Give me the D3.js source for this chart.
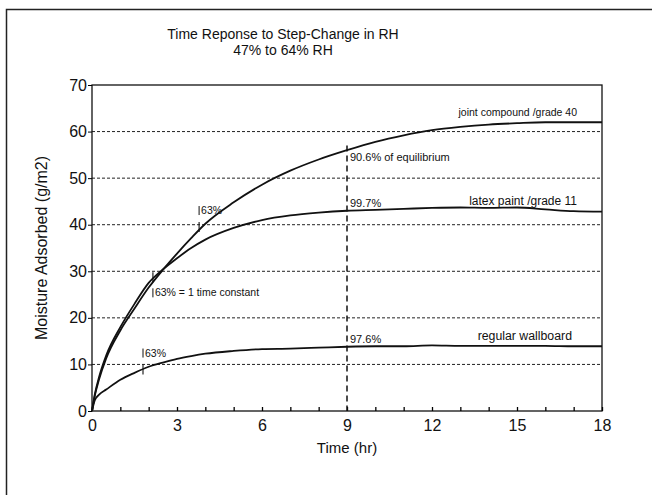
<!DOCTYPE html>
<html>
<head>
<meta charset="utf-8">
<script src="https://cdn.jsdelivr.net/npm/d3@7"></script>
<style>
  body { margin: 0; background: #fff; }
  svg text { font-family: "Liberation Sans", Arial, sans-serif; fill: #111; }
</style>
</head>
<body>
<svg id="chart"></svg>
<script>
// time axis (hr)
const hours = [0, 0.1, 0.25, 0.5, 1, 1.5, 2, 2.5, 3, 3.5, 4, 5, 6, 7, 8, 9, 10, 11, 12, 13, 14, 15, 16, 17, 18];
// moisture adsorbed (g/m2)
const jointCompound = [0, 3.3, 6.8, 11.3, 17.3, 22, 26.5, 30.3, 33.8, 37.1, 40.2, 44.8, 48.6, 51.6, 54, 56, 57.8, 59.2, 60.3, 61, 61.5, 61.8, 62, 62, 62];
const latexPaint = [0, 3.6, 7.3, 11.9, 18, 23, 27.5, 30.4, 32.8, 35, 36.8, 39.3, 41, 42, 42.6, 43, 43.2, 43.4, 43.6, 43.7, 43.6, 43.7, 43.3, 42.9, 42.8];
const wallboard = [0, 2.3, 3.5, 4.6, 6.7, 8.2, 9.5, 10.4, 11.2, 11.8, 12.3, 12.9, 13.3, 13.4, 13.6, 13.8, 13.9, 13.9, 14.1, 14, 14, 14, 14, 13.9, 13.9];

const xTicks = [0, 3, 6, 9, 12, 15, 18];
const yTicks = [0, 10, 20, 30, 40, 50, 60, 70];
const gridValues = [10, 20, 30, 40, 50, 60];

// 63% markers
const marks = [
  {t: 3.78, v: 39.5, label: "63%"},
  {t: 2.15, v: 28.7, label: "63% = 1 time constant"},
  {t: 1.8, v: 8.9, label: "63%"}
];
const equilibriumTime = 9;
const equilibriumLabels = [
  {v: 56, label: "90.6% of equilibrium"},
  {v: 43, label: "99.7%"},
  {v: 13.8, label: "97.6%"}
];
const seriesLabels = [
  {v: 62, label: "joint compound /grade 40"},
  {v: 43, label: "latex paint /grade 11"},
  {v: 13.9, label: "regular wallboard"}
];

const width = 652, height = 495;
const margin = {top: 85, right: 50, bottom: 84, left: 92};

const svg = d3.select("#chart").attr("width", width).attr("height", height);

// outer frame (left + top edge)
svg.append("path")
  .attr("d", "M6.5,495 V9.5 H652")
  .attr("fill", "none").attr("stroke", "#222").attr("stroke-width", 1.5);

const x = d3.scaleLinear().domain([0, 18]).range([margin.left, width - margin.right]);
const y = d3.scaleLinear().domain([0, 70]).range([height - margin.bottom, margin.top]);

// title
svg.append("text").attr("x", 283).attr("y", 38.5).attr("text-anchor", "middle")
  .style("font-size", "14px").text("Time Reponse to Step-Change in RH");
svg.append("text").attr("x", 283).attr("y", 55).attr("text-anchor", "middle")
  .style("font-size", "14px").text("47% to 64% RH");

// grid
svg.append("g").selectAll("line").data(gridValues).join("line")
  .attr("x1", x(0)).attr("x2", x(18))
  .attr("y1", d => y(d)).attr("y2", d => y(d))
  .attr("stroke", "#222").attr("stroke-width", 1)
  .attr("stroke-dasharray", "3,2");

// plot box
svg.append("rect")
  .attr("x", x(0)).attr("y", y(70))
  .attr("width", x(18) - x(0)).attr("height", y(0) - y(70))
  .attr("fill", "none").attr("stroke", "#111").attr("stroke-width", 1.3);

// y axis
const yAxis = svg.append("g").attr("transform", `translate(${x(0)},0)`)
  .call(d3.axisLeft(y).tickValues(yTicks).tickSize(4).tickPadding(1));
yAxis.select(".domain").remove();
yAxis.selectAll("text").style("font-size", "16px");

// x axis, ticks inward
const xAxis = svg.append("g").attr("transform", `translate(0,${y(0)})`)
  .call(d3.axisBottom(x).ticks(18).tickSize(-4).tickPadding(9)
    .tickFormat(d => xTicks.includes(d) ? d : ""));
xAxis.select(".domain").remove();
xAxis.selectAll("text").style("font-size", "16px");
xAxis.selectAll("line").attr("stroke-width", 1.3);

// axis titles
svg.append("text").attr("x", x(9)).attr("y", 453).attr("text-anchor", "middle")
  .style("font-size", "15px").text("Time (hr)");
svg.append("text").attr("transform", `translate(47,${(y(0) + y(70)) / 2}) rotate(-90)`)
  .attr("text-anchor", "middle").style("font-size", "16px").text("Moisture Adsorbed (g/m2)");

// vertical line at 9 hr
svg.append("line")
  .attr("x1", x(equilibriumTime)).attr("x2", x(equilibriumTime))
  .attr("y1", y(57)).attr("y2", y(0))
  .attr("stroke", "#111").attr("stroke-width", 1.5)
  .attr("stroke-dasharray", "6,4");

// curves
const line = d3.line().x((d, i) => x(hours[i])).y(d => y(d)).curve(d3.curveMonotoneX);
[jointCompound, latexPaint, wallboard].forEach(s => {
  svg.append("path").datum(s).attr("d", line)
    .attr("fill", "none").attr("stroke", "#111").attr("stroke-width", 1.8);
});

// 63% markers
const mk = svg.append("g");
mk.selectAll("line.cross").data(marks).join("line").attr("class", "cross")
  .attr("x1", d => x(d.t)).attr("x2", d => x(d.t))
  .attr("y1", d => y(d.v) - 5).attr("y2", d => y(d.v) + 5)
  .attr("stroke", "#111").attr("stroke-width", 1.1);
marks.forEach((d, i) => {
  const below = i === 1;
  const by = below ? y(d.v) + 11 : y(d.v) - 21;
  mk.append("line").attr("x1", x(d.t)).attr("x2", x(d.t))
    .attr("y1", by).attr("y2", by + 9).attr("stroke", "#111").attr("stroke-width", 1);
  mk.append("text").attr("x", x(d.t) + 2).attr("y", by + 8)
    .style("font-size", "10.5px").text(d.label);
});

// labels at 9 hr
svg.append("g").selectAll("text").data(equilibriumLabels).join("text")
  .attr("x", x(equilibriumTime) + 3).attr("y", (d, i) => y(d.v) + (i === 0 ? 11 : -4))
  .style("font-size", "11px").text(d => d.label);

// series labels
const labelSize = ["10.5px", "12px", "12.3px"];
const labelRight = [577, 577, 572];
svg.append("g").selectAll("text").data(seriesLabels).join("text")
  .attr("x", (d, i) => labelRight[i]).attr("y", d => y(d.v) - 6)
  .attr("text-anchor", "end")
  .style("font-size", (d, i) => labelSize[i]).text(d => d.label);
</script>
</body>
</html>
